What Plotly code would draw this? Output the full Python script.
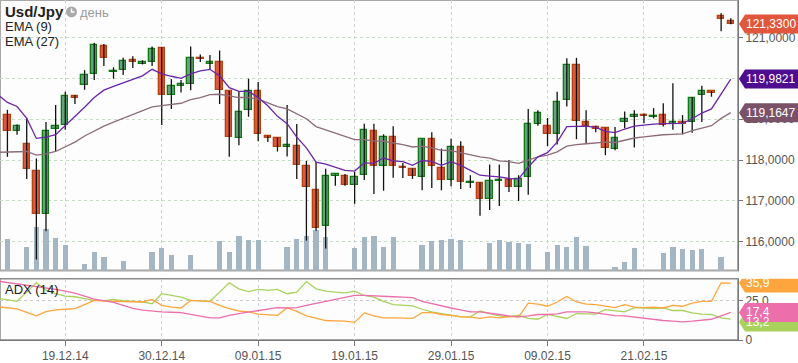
import plotly.graph_objects as go

# ---------------- data ----------------
tick_labels = ["19.12.14", "30.12.14", "09.01.15", "19.01.15", "29.01.15", "09.02.15", "21.02.15"]
tick_index = [6, 16, 26, 36, 46, 56, 66]   # candle number carrying each date label

open_ = [119.10, 118.71, 118.39, 117.74, 116.67, 118.76, 118.85, 119.56, 119.84, 120.11,
         120.79, 120.15, 120.21, 120.44, 120.36, 120.40, 120.74, 119.60, 119.81, 119.87,
         120.50, 120.35, 120.40, 119.68, 118.54, 119.22, 119.68, 118.59, 118.54, 118.32,
         118.34, 117.86, 117.28, 116.38, 117.61, 117.62, 117.40, 117.64, 118.71, 117.86,
         118.56, 117.83, 117.79, 117.59, 118.51, 117.81, 117.51, 118.32, 117.44, 117.45,
         117.05, 117.49, 117.52, 117.34, 117.59, 118.89, 118.83, 118.63, 119.46, 120.33,
         118.93, 118.80, 118.78, 118.27, 118.93, 119.05, 119.10, 119.05, 119.10, 118.89,
         118.93, 118.92, 119.58, 119.69, 121.53, 121.39]
high_ = [119.23, 118.87, 119.02, 118.04, 118.93, 119.35, 119.67, 119.59, 120.20, 120.87,
         120.84, 120.27, 120.50, 120.54, 120.44, 120.78, 120.76, 119.98, 119.96, 120.78,
         120.58, 120.57, 120.68, 119.69, 119.68, 119.99, 119.91, 118.60, 118.55, 119.35,
         118.88, 117.98, 117.96, 117.79, 117.65, 117.66, 117.71, 118.89, 118.89, 118.63,
         118.83, 117.93, 117.79, 118.51, 118.68, 118.28, 118.52, 118.46, 117.63, 117.45,
         117.89, 117.89, 118.00, 117.63, 119.25, 119.22, 119.03, 119.67, 120.49, 120.50,
         119.22, 118.84, 118.79, 118.81, 119.19, 119.22, 119.14, 119.27, 119.39, 119.88,
         119.10, 119.53, 119.82, 119.69, 121.59, 121.47]
low_ = [118.08, 118.62, 117.54, 115.57, 116.26, 118.22, 118.74, 119.37, 119.72, 119.96,
        120.30, 119.99, 120.08, 120.25, 120.34, 120.30, 118.86, 119.25, 119.65, 119.71,
        120.40, 120.22, 119.37, 118.08, 118.36, 119.06, 118.46, 118.44, 118.21, 118.09,
        117.54, 116.03, 116.27, 115.84, 117.37, 117.37, 116.93, 117.51, 117.17, 117.25,
        117.57, 117.56, 117.54, 117.26, 117.32, 117.26, 117.36, 117.29, 117.32, 116.64,
        116.78, 116.88, 117.22, 117.00, 117.15, 118.84, 118.34, 118.38, 119.31, 118.51,
        118.42, 118.68, 118.12, 118.24, 118.78, 118.31, 118.90, 119.02, 118.82, 118.74,
        118.63, 118.67, 118.93, 119.55, 121.15, 121.32]
close_ = [118.71, 118.83, 117.79, 116.67, 118.71, 118.83, 119.56, 119.52, 120.09, 120.82,
          120.50, 120.19, 120.43, 120.40, 120.40, 120.72, 119.60, 119.80, 119.85, 120.50,
          120.47, 120.39, 119.72, 118.56, 119.17, 119.68, 118.63, 118.55, 118.32, 118.37,
          117.88, 117.33, 116.33, 117.62, 117.65, 117.40, 117.58, 118.73, 117.86, 118.56,
          117.86, 117.80, 117.62, 118.51, 117.86, 117.51, 118.32, 117.46, 117.47, 117.05,
          117.50, 117.52, 117.34, 117.54, 118.88, 119.14, 118.63, 119.43, 120.33, 118.95,
          118.84, 118.77, 118.30, 118.54, 119.00, 119.10, 119.07, 119.07, 118.87, 118.93,
          118.89, 119.53, 119.68, 119.65, 121.45, 121.33]
volume = [32, 0, 24, 44, 42, 33, 26, 0, 7, 19,
          14, 0, 10, 0, 0, 19, 23, 16, 0, 16,
          0, 0, 30, 19, 35, 31, 31, 0, 0, 24,
          32, 35, 41, 34, 0, 0, 23, 34, 35, 24,
          34, 0, 0, 26, 30, 31, 32, 31, 0, 0,
          28, 31, 29, 28, 27, 0, 19, 26, 24, 34,
          25, 0, 0, 4, 9, 23, 0, 0, 18, 24,
          22, 21, 22, 0, 14, 0]

# indicator lines start one candle before the first visible candle
ema9 = [119.60, 119.41, 119.31, 119.02, 118.53, 118.56, 118.62, 118.84, 119.07, 119.29,
        119.53, 119.71, 119.80, 119.89, 119.98, 120.06, 120.22, 120.11, 120.05, 120.00,
        120.11, 120.18, 120.22, 120.06, 119.77, 119.68, 119.68, 119.53, 119.33, 119.07,
        118.89, 118.56, 118.30, 117.95, 117.90, 117.83, 117.75, 117.73, 117.93, 117.92,
        118.05, 117.98, 117.96, 117.87, 117.99, 117.97, 117.87, 117.96, 117.87, 117.75,
        117.63, 117.61, 117.59, 117.55, 117.54, 117.83, 118.08, 118.18, 118.44, 118.82,
        118.83, 118.83, 118.80, 118.70, 118.67, 118.76, 118.83, 118.86, 118.88, 118.89,
        118.90, 118.90, 119.01, 119.15, 119.25, 119.61, 119.98]
ema27 = [118.19, 118.20, 118.21, 118.21, 118.12, 118.15, 118.21, 118.32, 118.44, 118.59,
         118.72, 118.83, 118.93, 119.02, 119.11, 119.21, 119.30, 119.33, 119.36, 119.39,
         119.48, 119.53, 119.60, 119.61, 119.57, 119.53, 119.53, 119.49, 119.40, 119.31,
         119.25, 119.13, 119.01, 118.82, 118.74, 118.67, 118.59, 118.50, 118.50, 118.47,
         118.46, 118.42, 118.38, 118.32, 118.34, 118.30, 118.24, 118.23, 118.18, 118.13,
         118.08, 118.05, 117.98, 117.96, 117.92, 118.00, 118.08, 118.12, 118.20, 118.34,
         118.38, 118.40, 118.42, 118.44, 118.43, 118.48, 118.54, 118.57, 118.60, 118.62,
         118.63, 118.64, 118.72, 118.78, 118.84, 119.02, 119.16]
adx_orange = [21.0, 20.4, 19.6, 17.5, 15.2, 17.9, 19.0, 19.4, 19.8, 22.3,
              25.0, 24.6, 24.4, 24.2, 24.2, 24.0, 25.6, 21.9, 20.8, 20.2,
              25.0, 24.8, 24.4, 21.9, 19.8, 18.3, 17.7, 16.3, 16.1, 15.6,
              20.2, 18.1, 15.2, 13.6, 12.3, 12.1, 11.9, 11.1, 17.1, 15.2,
              14.0, 14.0, 13.8, 13.6, 17.3, 17.3, 16.1, 15.6, 14.6, 14.4,
              13.6, 14.6, 14.0, 14.8, 14.6, 23.3, 22.7, 21.3, 24.0, 27.5,
              24.0, 22.7, 22.3, 21.3, 20.4, 22.3, 20.8, 20.4, 20.8, 20.2,
              21.9, 21.3, 23.3, 24.4, 24.4, 36.1, 35.9]
adx_pink = [37.1, 36.3, 35.4, 34.6, 33.8, 32.7, 31.9, 30.8, 29.6, 27.7,
            25.8, 24.8, 23.8, 21.9, 20.0, 18.8, 18.1, 17.7, 17.5, 17.3,
            16.1, 15.0, 14.0, 14.0, 15.6, 16.7, 17.7, 18.8, 19.8, 20.4,
            20.2, 20.4, 21.9, 23.1, 24.4, 25.6, 26.9, 28.1, 28.1, 27.7,
            27.5, 27.3, 27.1, 26.7, 24.4, 22.9, 21.5, 20.2, 19.0, 17.7,
            17.7, 17.1, 16.1, 15.2, 14.6, 15.2, 16.1, 16.1, 16.5, 17.7,
            17.7, 17.7, 17.1, 16.1, 15.4, 15.2, 14.4, 13.6, 12.9, 12.3,
            11.9, 11.5, 11.9, 12.5, 13.1, 15.2, 17.4]
adx_green = [26.3, 25.4, 24.4, 30.2, 36.1, 31.5, 29.2, 27.7, 27.3, 26.1,
             25.0, 24.8, 25.6, 24.8, 24.4, 24.0, 22.9, 29.2, 28.1, 27.1,
             25.0, 24.8, 24.4, 30.2, 36.1, 32.3, 30.6, 31.9, 31.3, 31.9,
             29.2, 30.2, 36.9, 32.3, 30.8, 30.2, 29.8, 30.8, 28.1, 27.1,
             24.4, 22.3, 21.9, 21.5, 19.4, 17.7, 16.7, 15.6, 14.8, 14.6,
             18.3, 16.7, 15.2, 14.6, 15.6, 13.6, 13.1, 16.1, 15.0, 13.6,
             16.7, 16.5, 16.3, 19.2, 18.6, 17.7, 20.4, 20.2, 19.8, 20.2,
             18.6, 18.6, 17.1, 16.3, 16.1, 14.0, 13.2]

price_ticks = [116, 117, 118, 119, 120, 121]
last_price = 121.33

# ---------------- styling ----------------
FONT = "Liberation Sans, Arial, sans-serif"
INC_FILL, INC_LINE = "#63a57a", "#0f7a12"
DEC_FILL, DEC_LINE = "#e0573b", "#b5420f"
VOL_COLOR = "#a4b5c3"
EMA9_C, EMA9_TAG = "#6a25a8", "#4e0c8e"
EMA27_C, EMA27_TAG = "#8c6c7b", "#7a5267"
OR_C, PK_C, GR_C = "#ffa53d", "#ec6eab", "#a9d25d"

n = len(close_)
for arr in (open_, high_, low_, volume):
    assert len(arr) == n
for arr in (ema9, ema27, adx_orange, adx_pink, adx_green):
    assert len(arr) == n + 1

idx = list(range(n))
line_x = list(range(-1, n))

body_base = [min(o, c) for o, c in zip(open_, close_)]
body_h = [max(abs(c - o), 0.025) for o, c in zip(open_, close_)]
is_up = [c >= o for o, c in zip(open_, close_)]
body_fill = [INC_FILL if u else DEC_FILL for u in is_up]
body_edge = [INC_LINE if u else DEC_LINE for u in is_up]

wick_x, wick_y = [], []
for i, h, l in zip(idx, high_, low_):
    wick_x += [i, i, None]
    wick_y += [l, h, None]

fig = go.Figure()
fig.add_trace(go.Bar(x=idx, y=volume, xaxis="x", yaxis="y", width=0.55,
                     marker=dict(color=VOL_COLOR, line=dict(width=0)), hoverinfo="skip"))
fig.add_trace(go.Scatter(x=wick_x, y=wick_y, xaxis="x", yaxis="y2", mode="lines",
                         line=dict(color="#111111", width=1.3), hoverinfo="skip"))
fig.add_trace(go.Bar(x=idx, y=body_h, base=body_base, xaxis="x", yaxis="y2", width=0.66,
                     marker=dict(color=body_fill, line=dict(color=body_edge, width=1.3))))
fig.add_trace(go.Scatter(x=line_x, y=ema27, xaxis="x", yaxis="y2", mode="lines",
                         line=dict(color=EMA27_C, width=1.3)))
fig.add_trace(go.Scatter(x=line_x, y=ema9, xaxis="x", yaxis="y2", mode="lines",
                         line=dict(color=EMA9_C, width=1.3)))
fig.add_trace(go.Scatter(x=line_x, y=adx_green, xaxis="x2", yaxis="y3", mode="lines",
                         line=dict(color=GR_C, width=1.3)))
fig.add_trace(go.Scatter(x=line_x, y=adx_orange, xaxis="x2", yaxis="y3", mode="lines",
                         line=dict(color=OR_C, width=1.3)))
fig.add_trace(go.Scatter(x=line_x, y=adx_pink, xaxis="x2", yaxis="y3", mode="lines",
                         line=dict(color=PK_C, width=1.3)))

XR = [-0.77, 75.75]
MAIN_DOM = [0.2041, 1.0]
ADX_DOM = [0.0, 0.1799]
grid_v = dict(showgrid=True, gridcolor="#cfcfcf", griddash="dot", gridwidth=1)

shapes, annotations = [], []

def tag(yref, value, color, text, dy=0):
    shapes.append(dict(type="path", xref="paper", yref=yref, xsizemode="pixel",
                       ysizemode="pixel", xanchor=1, yanchor=value,
                       path=f"M 1 {dy} L 7 {dy + 9.5} L 62 {dy + 9.5} L 62 {dy - 9.5} L 7 {dy - 9.5} Z",
                       fillcolor=color, line=dict(width=0), layer="above"))
    annotations.append(dict(xref="paper", yref=yref, x=1, y=value, xanchor="left",
                            yanchor="middle", xshift=6, yshift=dy, text=text, showarrow=False,
                            font=dict(color="white", size=12, family=FONT)))

def fmt(v, d):
    return f"{v:.{d}f}".replace(".", ",")

tag("y2", last_price, DEC_FILL, fmt(last_price, 4))
tag("y2", ema9[-1], EMA9_TAG, fmt(119.9821, 4))
tag("y2", ema27[-1], EMA27_TAG, fmt(119.1647, 4))
tag("y3", adx_green[-1], GR_C, fmt(adx_green[-1], 1), dy=-3)
tag("y3", adx_pink[-1], PK_C, fmt(adx_pink[-1], 1))
tag("y3", adx_orange[-1], OR_C, fmt(adx_orange[-1], 1))

# panel frames
shapes.append(dict(type="rect", xref="paper", yref="paper", x0=0, x1=1, y0=MAIN_DOM[0], y1=MAIN_DOM[1],
                   line=dict(color="#a8a8a8", width=2), layer="below"))
shapes.append(dict(type="rect", xref="paper", yref="paper", x0=0, x1=1, y0=ADX_DOM[0], y1=ADX_DOM[1],
                   line=dict(color="#8a8a8a", width=1.5), layer="below"))

PH = 343.0  # plot-area height in px, used to place the legend texts
PW = 738.0
def ypap(px):
    return 1 - px / PH
def xpap(px):
    return px / PW

# clock icon next to the timeframe label
shapes.append(dict(type="circle", xref="paper", yref="paper", x0=xpap(66), x1=xpap(77),
                   y0=ypap(17.5), y1=ypap(6.5), fillcolor="#a9a9a9", line=dict(width=0), layer="above"))
shapes.append(dict(type="path", xref="paper", yref="paper",
                   path=f"M {xpap(71.5)} {ypap(8.5)} L {xpap(71.5)} {ypap(12)} L {xpap(74.5)} {ypap(12)}",
                   line=dict(color="white", width=1.5), layer="above"))

annotations += [
    dict(xref="paper", yref="paper", x=0.004, y=ypap(12), xanchor="left", yanchor="middle",
         text="<b>Usd/Jpy</b>", showarrow=False, font=dict(size=15, color="#222", family=FONT)),
    dict(xref="paper", yref="paper", x=xpap(78), y=ypap(12.5), xanchor="left", yanchor="middle",
         text="день", showarrow=False, font=dict(size=13, color="#9a9a9a", family=FONT)),
    dict(xref="paper", yref="paper", x=0.004, y=ypap(26.5), xanchor="left", yanchor="middle",
         text="EMA (9)", showarrow=False, font=dict(size=13, color="#222", family=FONT)),
    dict(xref="paper", yref="paper", x=0.004, y=ypap(42), xanchor="left", yanchor="middle",
         text="EMA (27)", showarrow=False, font=dict(size=13, color="#222", family=FONT)),
    dict(xref="paper", yref="paper", x=0.004, y=ypap(292), xanchor="left", yanchor="middle",
         text="ADX (14)", showarrow=False, font=dict(size=13, color="#222", family=FONT)),
]

fig.update_layout(
    width=798, height=363, margin=dict(l=0, r=60, t=0, b=20),
    paper_bgcolor="white", plot_bgcolor="#fdfdfd",
    font=dict(family=FONT, size=12, color="#555"),
    separators=", ", showlegend=False, barmode="overlay", bargap=0,
    xaxis=dict(domain=[0, 1], anchor="y", range=XR, tickvals=tick_index, showticklabels=False,
               ticks="", zeroline=False, showline=False, **grid_v),
    xaxis2=dict(domain=[0, 1], anchor="y3", range=XR, matches="x", tickvals=tick_index,
                ticktext=tick_labels, ticks="outside", ticklen=5, tickcolor="#777",
                showline=True, linecolor="#777", zeroline=False,
                tickfont=dict(size=12, color="#555"), **grid_v),
    yaxis=dict(domain=MAIN_DOM, range=[0, 273], visible=False, fixedrange=True),
    yaxis2=dict(domain=MAIN_DOM, overlaying="y", anchor="x", side="right",
                range=[115.297, 121.915], tickvals=price_ticks, tickformat=".4f",
                ticks="outside", ticklen=4, tickcolor="#777", showline=True, linecolor="#777",
                showgrid=True, gridcolor="#c7dcc7", griddash="dot", zeroline=False,
                tickfont=dict(size=12, color="#555")),
    yaxis3=dict(domain=ADX_DOM, anchor="x2", side="right", range=[0, 38.6],
                tickvals=[0, 25], ticktext=["0", "25,0"], ticks="outside", ticklen=4,
                tickcolor="#777", showline=True, linecolor="#777",
                showgrid=True, gridcolor="#c9c9c9", griddash="dot", zeroline=False,
                tickfont=dict(size=12, color="#555")),
    shapes=shapes, annotations=annotations,
)

fig.write_html("out.html", config={"displayModeBar": False},
               post_script="document.body.style.margin='0';document.body.style.padding='0';"
                           "document.documentElement.style.overflow='hidden';")
